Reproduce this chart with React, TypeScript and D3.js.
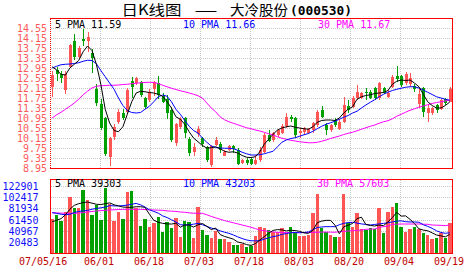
import React from 'react';
import * as d3 from 'd3';

const priceTicks = [14.55, 14.15, 13.75, 13.35, 12.95, 12.55, 12.15, 11.75, 11.35, 10.95, 10.55, 10.15, 9.75, 9.35, 8.95];
const volumeTicks = [122901, 102417, 81934, 61450, 40967, 20483];
const dateLabels = ['07/05/16', '06/01', '06/18', '07/03', '07/18', '08/03', '08/20', '09/04', '09/19'];

const openPrices = [
  12.20, 12.87, 12.72, 12.06, 13.00, 14.05, 13.40, 14.12, 14.02, 13.55,
  12.10, 11.50, 10.94, 9.40, 10.20, 10.80, 11.14, 11.20, 12.43, 12.34,
  12.40, 11.74, 11.67, 12.10, 12.35, 11.82, 11.70, 11.25, 9.95, 10.60,
  10.95, 10.10, 9.60, 10.30, 10.15, 9.78, 9.05, 9.88, 9.90, 9.45,
  9.66, 9.82, 9.65, 9.13, 9.28, 9.30, 9.11, 9.27, 9.60, 10.27,
  10.07, 10.27, 10.34, 10.63, 11.00, 10.94, 10.34, 10.40, 10.34, 10.47,
  10.67, 11.27, 10.67, 10.47, 10.87, 10.50, 10.80, 11.43, 11.40, 11.74,
  11.76, 12.00, 12.00, 12.14, 11.74, 12.14, 11.78, 12.20, 12.63, 12.63,
  12.34, 12.30, 12.25, 11.50, 12.14, 11.15, 11.16, 11.47, 11.30, 11.70,
  11.60,
];
const closePrices = [
  12.67, 12.72, 12.55, 12.70, 13.87, 13.40, 13.75, 14.04, 14.20, 13.35,
  11.55, 10.54, 9.52, 10.14, 10.58, 11.20, 10.94, 12.07, 12.20, 12.54,
  11.87, 11.40, 12.00, 12.38, 11.87, 11.60, 11.14, 10.07, 10.70, 10.90,
  10.35, 9.55, 9.80, 10.52, 9.90, 9.25, 9.83, 10.05, 9.65, 9.60,
  9.82, 9.72, 9.12, 9.27, 9.14, 9.11, 9.27, 9.67, 10.27, 10.04,
  10.34, 10.47, 10.63, 11.00, 10.90, 10.27, 10.45, 10.54, 10.51, 10.74,
  11.20, 11.00, 10.47, 10.67, 10.67, 10.80, 11.47, 11.27, 11.75, 12.00,
  11.94, 11.97, 11.76, 11.74, 12.34, 11.97, 11.97, 12.60, 12.50, 12.27,
  12.71, 12.55, 12.10, 11.90, 11.20, 11.35, 11.34, 11.27, 11.67, 11.54,
  12.10,
];
const highPrices = [
  12.82, 12.98, 12.85, 12.85, 13.92, 14.32, 13.82, 14.50, 14.38, 13.70,
  12.30, 11.70, 11.00, 10.20, 10.70, 11.30, 11.30, 12.15, 12.58, 12.60,
  12.45, 11.80, 12.10, 12.42, 12.63, 11.95, 11.87, 11.40, 10.75, 10.97,
  11.00, 10.20, 9.95, 10.62, 10.20, 9.83, 9.87, 10.20, 9.98, 9.65,
  9.87, 9.87, 9.73, 9.33, 9.37, 9.35, 9.47, 9.80, 10.34, 10.47,
  10.40, 10.50, 10.70, 11.16, 11.07, 11.00, 10.54, 10.60, 10.55, 10.80,
  11.27, 11.43, 10.77, 10.70, 10.95, 10.90, 11.80, 11.67, 11.85, 12.27,
  12.00, 12.14, 12.05, 12.20, 12.40, 12.20, 12.05, 12.67, 13.03, 12.67,
  12.80, 12.74, 12.30, 12.20, 12.20, 11.47, 11.40, 11.50, 11.70, 11.74,
  12.20,
];
const lowPrices = [
  11.80, 12.45, 12.35, 11.90, 12.95, 13.27, 13.30, 13.82, 13.60, 12.75,
  11.45, 10.47, 9.45, 9.03, 10.05, 10.72, 10.87, 11.10, 11.75, 12.28,
  11.80, 11.30, 11.60, 11.85, 11.70, 11.55, 10.90, 10.00, 9.85, 10.50,
  10.15, 9.45, 9.45, 10.20, 9.80, 9.20, 9.00, 9.83, 9.55, 9.42,
  9.62, 9.55, 9.05, 9.10, 9.07, 9.05, 9.07, 9.20, 9.54, 10.00,
  10.00, 10.20, 10.30, 10.54, 10.80, 10.14, 10.14, 10.27, 10.30, 10.34,
  10.60, 10.94, 10.27, 10.40, 10.60, 10.47, 10.74, 11.14, 11.34, 11.67,
  11.70, 11.67, 11.70, 11.67, 11.67, 11.90, 11.74, 12.14, 12.40, 12.20,
  12.27, 12.20, 12.00, 11.35, 11.00, 10.80, 11.07, 11.14, 11.27, 11.47,
  11.57,
];
const volumes = [
  62400, 69600, 59300, 74400, 102700, 82800, 81600, 114800, 96700, 69600,
  87700, 60600, 117800, 88900, 58700, 74400, 62400, 110600, 113000, 81600,
  49700, 62400, 48400, 55700, 66500, 39400, 57500, 46700, 63600, 30400,
  59300, 57500, 27500, 84600, 42500, 33400, 28600, 40700, 26200, 25600,
  21400, 15400, 15400, 17200, 11200, 13600, 32200, 48500, 46700, 41900,
  39400, 39400, 45600, 37600, 47400, 37600, 31600, 32200, 33400, 73800,
  107500, 45600, 39400, 33400, 30400, 30400, 107500, 54600, 48500, 73800,
  43700, 41900, 45600, 43700, 82800, 37600, 75600, 84600, 91800, 48500,
  39400, 44300, 47400, 43700, 36500, 33400, 25600, 27500, 36500, 27500,
  55700,
];
const pma5 = [
  13.00, 12.87, 12.70, 12.67, 12.95, 13.10, 13.25, 13.60, 13.83, 13.65,
  13.10, 12.30, 11.30, 10.75, 10.45, 10.40, 10.60, 11.10, 11.60, 11.95,
  12.02, 12.00, 11.97, 11.95, 11.90, 11.82, 11.60, 11.35, 11.00, 10.90,
  10.70, 10.40, 10.15, 10.00, 9.85, 9.75, 9.76, 9.80, 9.72, 9.62,
  9.58, 9.60, 9.55, 9.45, 9.38, 9.37, 9.40, 9.60, 9.90, 10.10,
  10.30, 10.47, 10.55, 10.60, 10.63, 10.58, 10.55, 10.52, 10.50, 10.60,
  10.78, 10.85, 10.87, 10.87, 10.85, 10.95, 11.15, 11.30, 11.40, 11.70,
  11.80, 11.85, 11.88, 11.93, 11.95, 11.97, 12.05, 12.30, 12.42, 12.47,
  12.45, 12.47, 12.35, 12.20, 11.90, 11.60, 11.45, 11.35, 11.35, 11.45,
  11.59,
];
const pma10 = [
  12.95, 13.02, 13.08, 13.10, 13.11, 13.13, 13.16, 13.22, 13.26, 13.25,
  13.12, 12.85, 12.60, 12.35, 12.10, 11.75, 11.45, 11.25, 11.17, 11.15,
  11.17, 11.30, 11.42, 11.60, 11.80, 11.87, 11.82, 11.60, 11.30, 11.10,
  10.85, 10.62, 10.45, 10.35, 10.15, 9.98, 9.83, 9.77, 9.75, 9.74,
  9.74, 9.72, 9.66, 9.58, 9.52, 9.47, 9.47, 9.48, 9.52, 9.57,
  9.62, 9.80, 9.98, 10.07, 10.13, 10.16, 10.22, 10.28, 10.33, 10.42,
  10.52, 10.62, 10.70, 10.76, 10.82, 10.90, 10.98, 11.05, 11.15, 11.22,
  11.35, 11.47, 11.58, 11.68, 11.80, 11.90, 11.98, 12.05, 12.10, 12.14,
  12.18, 12.20, 12.20, 12.15, 12.07, 11.98, 11.89, 11.80, 11.75, 11.70,
  11.66,
];
const pma30 = [
  10.95, 11.08, 11.18, 11.30, 11.42, 11.55, 11.70, 11.88, 12.02, 12.15,
  12.22, 12.24, 12.25, 12.26, 12.26, 12.27, 12.29, 12.30, 12.32, 12.34,
  12.36, 12.37, 12.38, 12.37, 12.33, 12.26, 12.20, 12.14, 12.09, 12.04,
  12.00, 11.95, 11.90, 11.84, 11.75, 11.55, 11.35, 11.20, 11.00, 10.88,
  10.80, 10.74, 10.68, 10.62, 10.56, 10.52, 10.47, 10.43, 10.38, 10.32,
  10.27, 10.20, 10.14, 10.10, 10.06, 10.03, 10.00, 9.98, 9.96, 9.96,
  9.98, 10.02, 10.07, 10.13, 10.18, 10.23, 10.29, 10.34, 10.38, 10.44,
  10.50, 10.56, 10.62, 10.67, 10.74, 10.80, 10.84, 10.92, 11.02, 11.10,
  11.18, 11.26, 11.32, 11.38, 11.43, 11.48, 11.53, 11.57, 11.60, 11.63,
  11.67,
];
const vma5 = [
  57500, 60000, 63000, 70000, 80000, 87000, 90000, 92000, 93000, 91000,
  89000, 88500, 90000, 91500, 88000, 86000, 84000, 83500, 83500, 84500,
  84500, 83500, 71000, 60000, 56500, 54500, 53500, 53200, 54700, 47500,
  51500, 51500, 47700, 51900, 54300, 49100, 43300, 46000, 34300, 30900,
  28500, 25900, 20800, 19000, 16100, 14600, 17900, 24500, 30400, 36600,
  41700, 43200, 42600, 40800, 41900, 41500, 40000, 37300, 36400, 41700,
  55700, 58500, 59900, 59900, 51300, 35800, 48200, 51300, 54300, 63000,
  65600, 52500, 50700, 49700, 51500, 50300, 57100, 64900, 74500, 67600,
  68000, 61700, 54300, 44700, 42300, 41100, 37300, 33300, 31900, 30100,
  34600,
];
const vma10 = [
  73800, 72500, 71000, 70000, 71000, 74000, 76000, 77000, 78000, 80000,
  81500, 82500, 84000, 86500, 86000, 86000, 86500, 87500, 89000, 90500,
  88000, 84000, 79000, 76000, 73000, 68000, 65000, 61000, 57000, 52000,
  51500, 52000, 53000, 54500, 52000, 49000, 46000, 44000, 41000, 38500,
  36500, 33500, 30000, 27000, 24500, 23000, 22800, 23200, 26000, 28500,
  30400, 32000, 34600, 36000, 37600, 38000, 37600, 38000, 39000, 43000,
  47000, 48000, 48500, 48500, 48500, 52000, 54500, 56000, 56300, 55000,
  53500, 52500, 51500, 52500, 53500, 54500, 55500, 57000, 58500, 59000,
  57500, 57000, 57000, 56500, 52000, 49000, 45500, 41000, 38000, 36500,
  37500,
];
const vma30 = [
  73800, 73500, 73000, 72800, 72600, 72600, 73000, 74000, 75000, 76000,
  76800, 77500, 78000, 78600, 79000, 79500, 79800, 79800, 79800, 79800,
  79800, 79500, 79000, 78600, 78300, 78000, 77000, 76500, 76000, 75000,
  74500, 73500, 72800, 72600, 72600, 70000, 67000, 64500, 62000, 59500,
  57500, 55500, 53500, 51500, 49500, 47500, 45000, 42500, 41000, 40000,
  39000, 38200, 38000, 38000, 37800, 37700, 37600, 37800, 38000, 38200,
  38400, 38600, 38800, 38600, 38400, 39400, 40000, 40600, 41200, 41800,
  42500, 43700, 44000, 44300, 47300, 48500, 49700, 52700, 53000, 53300,
  53300, 53300, 53300, 53300, 53000, 52700, 51500, 51200, 50900, 50300,
  51500,
];

const RED = '#ff5555';
const GREEN = '#00a000';
const MONO = '"DejaVu Sans Mono", monospace';
const CJK = '"Noto Sans CJK SC", sans-serif';

export default function App() {
  const idx = d3.range(openPrices.length);
  const x = d3.scaleBand<number>().domain(idx).range([50, 452]).padding(0);
  const step = x.step();
  const cx = (i: number) => (x(i) as number) + step / 2;
  const py = d3.scaleLinear().domain([8.95, 14.55]).range([168, 28]);
  const vy = d3.scaleLinear().domain([0, 122901]).range([253.5, 185.5]);
  const gx = d3.scaleLinear().domain([0, dateLabels.length - 1]).range([50, 450]);

  const pLine = d3.line<number>().x((_, i) => cx(i)).y((d) => py(d));
  const vLine = d3.line<number>().x((_, i) => cx(i)).y((d) => vy(d));

  const gridV = d3.range(1, dateLabels.length - 1).map((k) => Math.round(gx(k)) + 0.5);

  return (
    <svg width={472} height={273} style={{ position: 'absolute', left: 0, top: 0, background: '#fff' }}>
      <rect x={0} y={0} width={472} height={273} fill="#fff" />
      {/* title */}
      <text x={121.5} y={15} fontFamily={CJK} fontSize={14} textLength={60} lengthAdjust="spacingAndGlyphs" fill="#000">日K线图</text>
      <text x={195} y={15} fontFamily={CJK} fontSize={14} textLength={22} lengthAdjust="spacingAndGlyphs" fill="#000">——</text>
      <text x={230} y={15} fontFamily={CJK} fontSize={14} textLength={58} lengthAdjust="spacingAndGlyphs" fill="#000">大冷股份</text>
      <text x={290} y={15} fontFamily={MONO} fontWeight="bold" fontSize={12.5} textLength={62} lengthAdjust="spacingAndGlyphs" fill="#000">(000530)</text>

      {/* price grid */}
      <g stroke="#c8c8c8" strokeDasharray="1 1" shapeRendering="crispEdges">
        {priceTicks.slice(0, -1).map((t) => (
          <line key={'pg' + t} x1={51} x2={452} y1={Math.round(py(t)) + 0.5} y2={Math.round(py(t)) + 0.5} />
        ))}
        {gridV.map((gv) => (
          <line key={'pv' + gv} x1={gv} x2={gv} y1={19} y2={168} />
        ))}
        {volumeTicks.map((t) => (
          <line key={'vg' + t} x1={51} x2={452} y1={Math.round(vy(t)) + 0.5} y2={Math.round(vy(t)) + 0.5} />
        ))}
        {gridV.map((gv) => (
          <line key={'vv' + gv} x1={gv} x2={gv} y1={180} y2={253} />
        ))}
      </g>

      {/* price labels */}
      {priceTicks.map((t) => (
        <text key={'pl' + t} x={47} y={Math.round(py(t)) + 4} textAnchor="end" fontFamily={MONO} fontSize={10} fill="#ff5a5a">{t.toFixed(2)}</text>
      ))}
      {/* volume labels */}
      {volumeTicks.map((t) => (
        <text key={'vl' + t} x={38.5} y={Math.round(vy(t)) + 4} textAnchor="end" fontFamily={MONO} fontSize={10} fill="#1010ff">{t}</text>
      ))}
      {/* date labels */}
      {dateLabels.map((d, k) => (
        <text key={'dl' + d} x={k === 0 ? 19 : gx(k) - 1} y={265} textAnchor={k === 0 ? 'start' : 'middle'} fontFamily={MONO} fontSize={10} fill="#c00000">{d}</text>
      ))}

      {/* candles */}
      <g shapeRendering="crispEdges">
        {idx.map((i) => {
          const o = openPrices[i];
          const c = closePrices[i];
          const col = c >= o ? RED : GREEN;
          const c0 = Math.round(cx(i));
          const yt = Math.round(py(Math.max(o, c)));
          const yb = Math.round(py(Math.min(o, c)));
          const yh = Math.round(py(highPrices[i]));
          const yl = Math.round(py(lowPrices[i]));
          return (
            <g key={'c' + i} fill={col}>
              <rect x={c0} y={yh} width={1} height={Math.max(1, yl - yh)} />
              <rect x={c0 - 1} y={yt} width={3} height={Math.max(1, yb - yt)} />
            </g>
          );
        })}
      </g>

      {/* volume bars */}
      <g shapeRendering="crispEdges">
        {idx.map((i) => {
          const x0 = Math.round((x(i) as number) + 0.5);
          const x1 = Math.round((x(i) as number) + step - 0.5);
          const yv = Math.round(vy(volumes[i]));
          return (
            <rect key={'v' + i} x={x0} y={yv} width={x1 - x0} height={253 - yv}
              fill={closePrices[i] >= openPrices[i] ? RED : GREEN} />
          );
        })}
      </g>

      {/* moving average lines */}
      <g fill="none" strokeWidth={1}>
        <path d={pLine(pma30) || ''} stroke="#ff00ff" />
        <path d={pLine(pma10) || ''} stroke="#0000ff" />
        <path d={pLine(pma5) || ''} stroke="#000000" />
        <path d={vLine(vma30) || ''} stroke="#ff00ff" />
        <path d={vLine(vma10) || ''} stroke="#0000ff" />
        <path d={vLine(vma5) || ''} stroke="#000000" />
      </g>

      {/* borders */}
      <g stroke="#ff0000" strokeWidth={1} shapeRendering="crispEdges" fill="none">
        <line x1={50} x2={453} y1={18.5} y2={18.5} />
        <line x1={50} x2={453} y1={168.5} y2={168.5} />
        <line x1={452.5} x2={452.5} y1={18} y2={169} />
        <line x1={50.5} x2={50.5} y1={19} y2={168} strokeDasharray="1 1" />
        <line x1={50} x2={453} y1={179.5} y2={179.5} />
        <line x1={50} x2={453} y1={253.5} y2={253.5} />
        <line x1={452.5} x2={452.5} y1={179} y2={254} />
        <line x1={50.5} x2={50.5} y1={179} y2={254} />
      </g>

      {/* legends */}
      <text x={55} y={28} fontFamily={MONO} fontSize={10} fill="#000">5 PMA 11.59</text>
      <text x={183} y={28} fontFamily={MONO} fontSize={10} fill="#0000ff">10 PMA 11.66</text>
      <text x={318} y={28} fontFamily={MONO} fontSize={10} fill="#ff00ff">30 PMA 11.67</text>
      <text x={55} y={187} fontFamily={MONO} fontSize={10} fill="#000">5 PMA 39303</text>
      <text x={183} y={187} fontFamily={MONO} fontSize={10} fill="#0000ff">10 PMA 43203</text>
      <text x={317} y={187} fontFamily={MONO} fontSize={10} fill="#ff00ff">30 PMA 57603</text>
    </svg>
  );
}
